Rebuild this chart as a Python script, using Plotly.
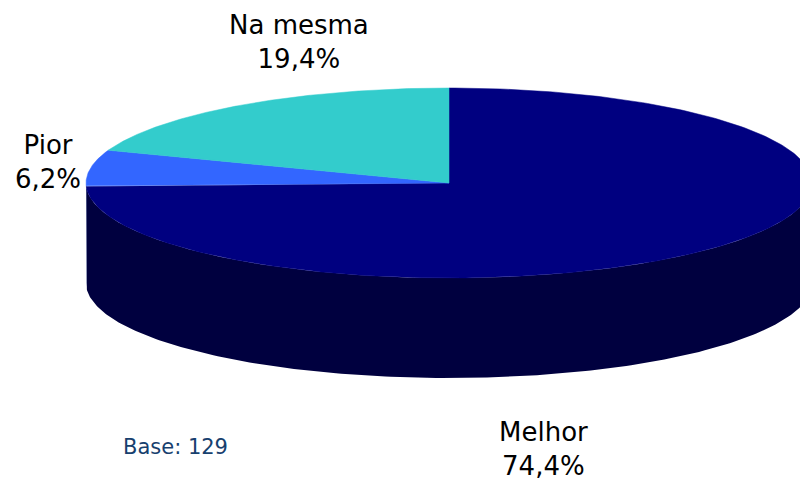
import numpy as np
import plotly.graph_objects as go

# Data
categories = ["Melhor", "Pior", "Na mesma"]
values = [74.4, 6.2, 19.4]
top_colors = ["#000080", "#3366FF", "#33CCCC"]
side_colors = ["#00003F", "#1A337F", "#1A6666"]
base_text = "Base: 129"

# Geometry of the projected 3D pie (pixel space)
CX, CY, RX, RY, DEPTH = 449, 183, 363, 95, 100


def pt(theta_deg, dy=0.0):
    t = np.radians(theta_deg)
    return CX + RX * np.sin(t), CY - RY * np.cos(t) + dy


fig = go.Figure()

total = sum(values)
bounds = []
start = 0.0
for v in values:
    end = start + 360.0 * v / total
    bounds.append((start, end))
    start = end

# side walls (visible front half: 90..270 degrees clockwise from top)
for (a, b), col in zip(bounds, side_colors):
    lo, hi = max(a, 90.0), min(b, 270.0)
    if hi <= lo:
        continue
    th = np.linspace(lo, hi, 200)
    xs_t, ys_t = pt(th)
    xs_b, ys_b = pt(th[::-1], DEPTH)
    xs = np.concatenate([xs_t, xs_b, xs_t[:1]])
    ys = np.concatenate([ys_t, ys_b, ys_t[:1]])
    fig.add_trace(go.Scatter(x=xs, y=ys, fill="toself", fillcolor=col, mode="lines",
                             line=dict(width=0, color=col), hoverinfo="skip", showlegend=False))

# top faces
for (a, b), col, name in zip(bounds, top_colors, categories):
    th = np.linspace(a, b, 300)
    xs_a, ys_a = pt(th)
    xs = np.concatenate([[CX], xs_a, [CX]])
    ys = np.concatenate([[CY], ys_a, [CY]])
    fig.add_trace(go.Scatter(x=xs, y=ys, fill="toself", fillcolor=col, mode="lines",
                             line=dict(width=0.5, color=col), name=name, hoverinfo="name",
                             showlegend=False))


def fmt(v):
    return f"{v:.1f}".replace(".", ",") + "%"


label_pos = {"Melhor": (543, 449), "Pior": (48, 162), "Na mesma": (299, 42)}
font = dict(family="DejaVu Sans, Verdana, sans-serif", size=26, color="#000000")
for name, v in zip(categories, values):
    x, y = label_pos[name]
    fig.add_annotation(x=x, y=y, xref="x", yref="y", text=f"{name}<br>{fmt(v)}",
                       showarrow=False, font=font, align="center",
                       xanchor="center", yanchor="middle")

fig.add_annotation(x=121, y=447, xref="x", yref="y", text=base_text, showarrow=False,
                   font=dict(family="DejaVu Sans, Verdana, sans-serif", size=21, color="#17406E"),
                   xanchor="left", yanchor="middle")

fig.update_layout(
    width=800, height=481,
    margin=dict(l=0, r=0, t=0, b=0),
    paper_bgcolor="white", plot_bgcolor="white",
    xaxis=dict(range=[0, 800], visible=False, fixedrange=True),
    yaxis=dict(range=[481, 0], visible=False, fixedrange=True),
)

fig.write_html("out.html", config={"displayModeBar": False},
               post_script="document.body.style.margin='0';document.body.style.overflow='hidden';")
